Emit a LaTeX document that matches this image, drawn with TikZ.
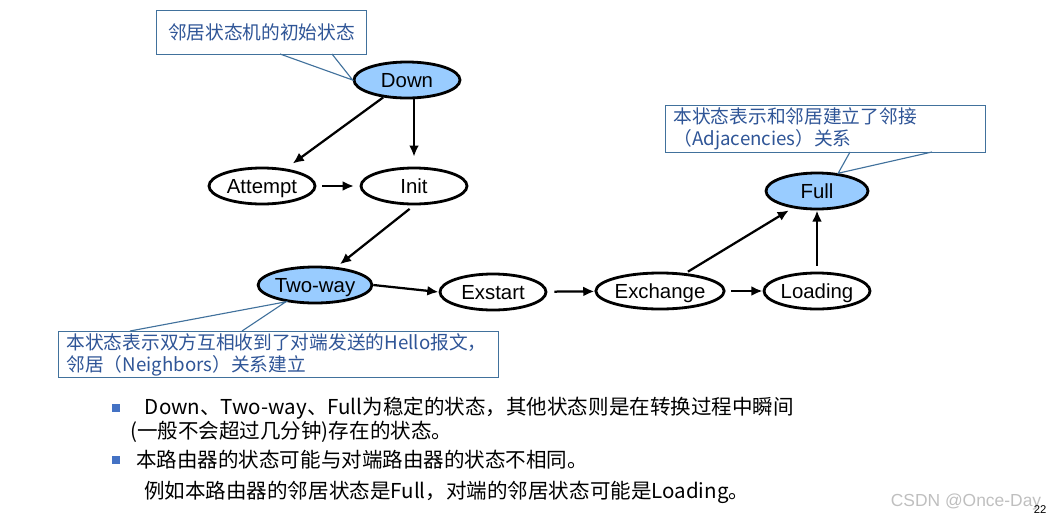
\documentclass[tikz,border=0pt]{standalone}
\usepackage{fontspec}
\setmainfont{Liberation Sans}
\newfontfamily\cjk{Noto Sans CJK SC}
\usetikzlibrary{shapes.geometric,arrows.meta}
\definecolor{stateblue}{HTML}{99CCFF}
\definecolor{notetext}{HTML}{2F5597}
\definecolor{noteline}{HTML}{41719C}
\definecolor{bulletblue}{HTML}{4472C4}

\begin{document}
\begin{tikzpicture}[x=0.025cm, y=-0.025cm,
    state/.style={ellipse, draw, line width=2pt, minimum width=2.65cm, minimum height=0.9cm, inner sep=0pt, text height=10.4pt, text depth=0pt, font=\fontsize{14.5pt}{17pt}\selectfont},
    stable/.style={state, fill=stateblue},
    arrow/.style={-{Latex[length=8pt,width=7pt]}, line width=1.6pt},
    note/.style={rectangle, draw=noteline, fill=white, text=notetext, line width=0.8pt, inner ysep=0pt, font=\cjk\fontsize{13.3pt}{15.6pt}\selectfont},
    pointer/.style={draw=noteline, line width=0.8pt},
    bullet/.style={rectangle, fill=bulletblue, minimum size=0.22cm, inner sep=0pt},
    body/.style={anchor=west, inner sep=0pt, font=\cjk\fontsize{14.6pt}{17pt}\selectfont}
]
\useasboundingbox (0,0) rectangle (1056,520);

\node[stable] (down) at (407,80) {Down};
\node[state] (attempt) at (262,186) {Attempt};
\node[state] (init) at (414,186) {Init};
\node[stable] (twoway) at (315,285) {Two-way};
\node[state] (exstart) at (493,292) {Exstart};
\node[state] (exchange) at (660,291) {Exchange};
\node[state] (loading) at (817,291) {Loading};
\node[stable, minimum width=2.55cm] (full) at (817,191) {Full};

\draw[arrow, shorten >=6pt] (down) -- (attempt);
\draw[arrow, shorten >=7pt] (down.south -| init.north) -- (init.north);
\draw[arrow, shorten <=4pt, shorten >=4pt] (attempt) -- (init);
\draw[arrow, shorten <=4pt, shorten >=3pt] (init.south) -- (twoway.40);
\draw[arrow] (twoway.east) -- (exstart.west);
\draw[arrow, shorten <=5pt] (exstart) -- (exchange);
\draw[arrow, shorten <=4pt] (exchange) -- (loading);
\draw[arrow, shorten <=2pt, shorten >=3pt] (exchange.35) -- (full.215);
\draw[arrow, shorten <=4pt] (loading) -- (full);

% callouts
\node[note, anchor=north west, minimum width=5.25cm, minimum height=1.1cm] (initnote) at (156,10) {邻居状态机的初始状态};
\coordinate (p1a) at (280,54);
\coordinate (p1b) at (332,54);
\draw[pointer] (p1a) -- (down.west) -- (p1b);

\node[note, anchor=north west, inner xsep=0.2cm, text width=7.6cm, align=left, minimum height=1.175cm] (fullnote) at (665,105) {本状态表示和邻居建立了邻接\\（Adjacencies）关系};
\coordinate (p2a) at (850,152);
\coordinate (p2b) at (932,152);
\draw[pointer] (p2a) -- (full.40) -- (p2b);

\node[note, anchor=north west, inner xsep=0.2cm, text width=10.6cm, align=left, minimum height=1.15cm] (waynote) at (58,331) {本状态表示双方互相收到了对端发送的Hello报文，\\邻居（Neighbors）关系建立};
\coordinate (p3a) at (130,331);
\coordinate (p3b) at (242,331);
\draw[pointer] (p3a) -- (twoway.210) -- (p3b);

% bullet text
\node[bullet] (b1) at (116,408) {};
\node[bullet] (b2) at (116,460) {};
\node[body] (t1) at (140,408) {\ Down、Two-way、Full为稳定的状态，其他状态则是在转换过程中瞬间};
\node[body] (t2) at (130,432) {(一般不会超过几分钟)存在的状态。};
\node[body] (t3) at (136,460) {本路由器的状态可能与对端路由器的状态不相同。};
\node[body] (t4) at (144,492) {例如本路由器的邻居状态是Full，对端的邻居状态可能是Loading。};

\node[text=black!25, font=\fontsize{12.4pt}{14pt}\selectfont] (mark) at (966,502) {CSDN @Once-Day};
\node[font=\fontsize{8pt}{9pt}\selectfont] (page) at (1040,510) {22};
\end{tikzpicture}
\end{document}
